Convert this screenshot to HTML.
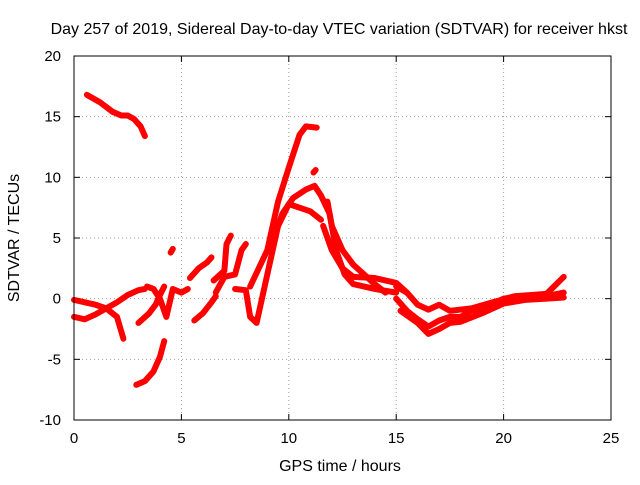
<!DOCTYPE html>
<html><head><meta charset="utf-8">
<style>
body{margin:0;background:#fff;}
svg text{font-family:"Liberation Sans",sans-serif;font-size:15px;fill:#000;}
svg text.big{font-size:16px;}
</style></head>
<body>
<svg id="chart" width="640" height="480" xmlns="http://www.w3.org/2000/svg">
<rect x="0" y="0" width="640" height="480" fill="#fff"/>
<text class="big" x="339" y="34" text-anchor="middle">Day 257 of 2019, Sidereal Day-to-day VTEC variation (SDTVAR) for receiver hkst</text>
<text class="big" x="340" y="471" text-anchor="middle">GPS time / hours</text>
<text class="big" transform="translate(19,238) rotate(-90)" text-anchor="middle">SDTVAR / TECUs</text>
<g id="grid"></g><g id="ticks"></g><g id="series"></g>
<rect x="74" y="56" width="537" height="364" fill="none" stroke="#000" stroke-width="1"/>
</svg>
<script>
const xTicks=[0,5,10,15,20,25];
const yTicks=[-10,-5,0,5,10,15,20];
const seg1=[[0.6,16.8],[1.2,16.2],[1.8,15.4],[2.2,15.1],[2.5,15.1],[2.8,14.8],[3.1,14.2],[3.3,13.4]];
const seg2=[[0,-0.1],[0.5,-0.3],[1,-0.5],[1.5,-0.8],[2,-0.3],[2.5,0.3],[3,0.7],[3.3,0.8]];
const seg3=[[0,-1.5],[0.5,-1.7],[1,-1.3],[1.5,-0.8],[2,-1.5],[2.3,-3.3]];
const seg4=[[2.9,-7.1],[3.3,-6.8],[3.7,-6],[4,-4.8],[4.2,-3.5]];
const seg5=[[3.0,-2],[3.5,-1.2],[3.8,-0.5],[4.0,0.3],[4.2,1]];
const seg6=[[3.4,1],[3.7,0.8],[4,0],[4.3,-1.5],[4.6,0.8],[5,0.5],[5.3,0.8]];
const seg7=[[4.5,3.8],[4.6,4.1]];
const seg8=[[5.4,1.7],[5.8,2.5],[6.2,3.0],[6.4,3.4]];
const seg9=[[5.6,-1.8],[6.0,-1.2],[6.4,-0.3],[6.6,0.2]];
const seg10=[[6.5,1.5],[7,2.3],[7.1,4.5],[7.3,5.2]];
const seg11=[[6.6,0.5],[7,1.8],[7.5,2],[7.8,4],[8,4.5]];
const seg12=[[7.5,0.8],[8,0.7],[8.2,-1.5],[8.5,-2],[9,2],[9.5,6],[10,7.8],[10.5,7.5],[11,7.2],[11.5,6.5]];
const seg13=[[8.2,1],[9,4],[9.5,8],[10,10.8],[10.5,13.5],[10.8,14.2],[11.3,14.1]];
const seg14=[[9.2,4.5],[9.7,7],[10.2,8.3],[10.8,9],[11.2,9.3],[11.5,8.5],[11.9,7],[12.2,4],[12.6,2],[13,1.2],[14,0.8],[15,0.5]];
const seg15=[[11.6,6],[12,4],[12.5,2.5],[13,1.8],[14,1.7],[15,1.3],[15.5,0.5]];
const seg16=[[11.8,8],[12,6],[12.5,4],[13,2.8],[13.5,2],[14,1.2],[14.5,0.5]];
const seg17=[[11.15,10.4],[11.25,10.6]];
const seg18=[[15,0],[15.5,-1],[16,-1.7],[16.5,-2.3],[17,-1.8],[17.5,-1.5],[18,-1.5],[18.5,-1],[19,-0.9],[19.5,-0.5],[20,0],[20.5,0.1],[21,0.2],[22,0.2],[22.8,0.5]];
const seg19=[[15,1],[15.5,0.5],[16,-0.5],[16.5,-0.9],[17,-0.5],[17.5,-1],[18.5,-0.8],[19.5,-0.3],[20.5,0.2],[22,0.4],[22.8,1.8]];
const seg20=[[15.2,-1],[16,-2],[16.5,-2.9],[17,-2.5],[17.5,-2],[18,-1.9],[19,-1.2],[20,-0.4],[21,-0.1],[22,0],[22.8,0.1]];
const allSegs=[seg1,seg2,seg3,seg4,seg5,seg6,seg7,seg8,seg9,seg10,seg11,seg12,seg13,seg14,seg15,seg16,seg17,seg18,seg19,seg20];

const NS="http://www.w3.org/2000/svg";
const X0=74,X1=611,Y0=420,Y1=56;
function sx(v){return X0+(v-0)/(25-0)*(X1-X0);}
function sy(v){return Y0-(v+10)/(30)*(Y0-Y1);}
const grid=document.getElementById('grid'),ticks=document.getElementById('ticks'),ser=document.getElementById('series');
function mk(tag,attrs,parent){const e=document.createElementNS(NS,tag);for(const k in attrs)e.setAttribute(k,attrs[k]);parent.appendChild(e);return e;}
xTicks.forEach(t=>{
  const x=sx(t);
  if(t>0&&t<25){const g=mk('line',{x1:x,x2:x,y1:Y1,y2:Y0,stroke:'#a0a0a0','stroke-dasharray':'1,3'},grid);
  
  }
  mk('line',{x1:x,x2:x,y1:Y0,y2:Y0-6,stroke:'#000'},ticks);
  mk('line',{x1:x,x2:x,y1:Y1,y2:Y1+6,stroke:'#000'},ticks);
  const l=mk('text',{x:x,y:Y0+23,'text-anchor':'middle'},ticks);l.textContent=t;
  
  
});
yTicks.forEach(t=>{
  const y=sy(t);
  if(t>-10&&t<20){const g=mk('line',{x1:X0,x2:X1,y1:y,y2:y,stroke:'#a0a0a0','stroke-dasharray':'1,3'},grid);
  
  }
  mk('line',{x1:X0,x2:X0+6,y1:y,y2:y,stroke:'#000'},ticks);
  mk('line',{x1:X1,x2:X1-6,y1:y,y2:y,stroke:'#000'},ticks);
  const l=mk('text',{x:X0-13,y:y+5,'text-anchor':'end'},ticks);l.textContent=t;
  
  
});
allSegs.forEach((s,i)=>{
  const p=mk('polyline',{points:s.map(d=>sx(d[0])+','+sy(d[1])).join(' '),fill:'none',stroke:'#ff0000','stroke-width':6,'stroke-linejoin':'round','stroke-linecap':'round'},ser);
  
  
});
</script>
</body></html>
